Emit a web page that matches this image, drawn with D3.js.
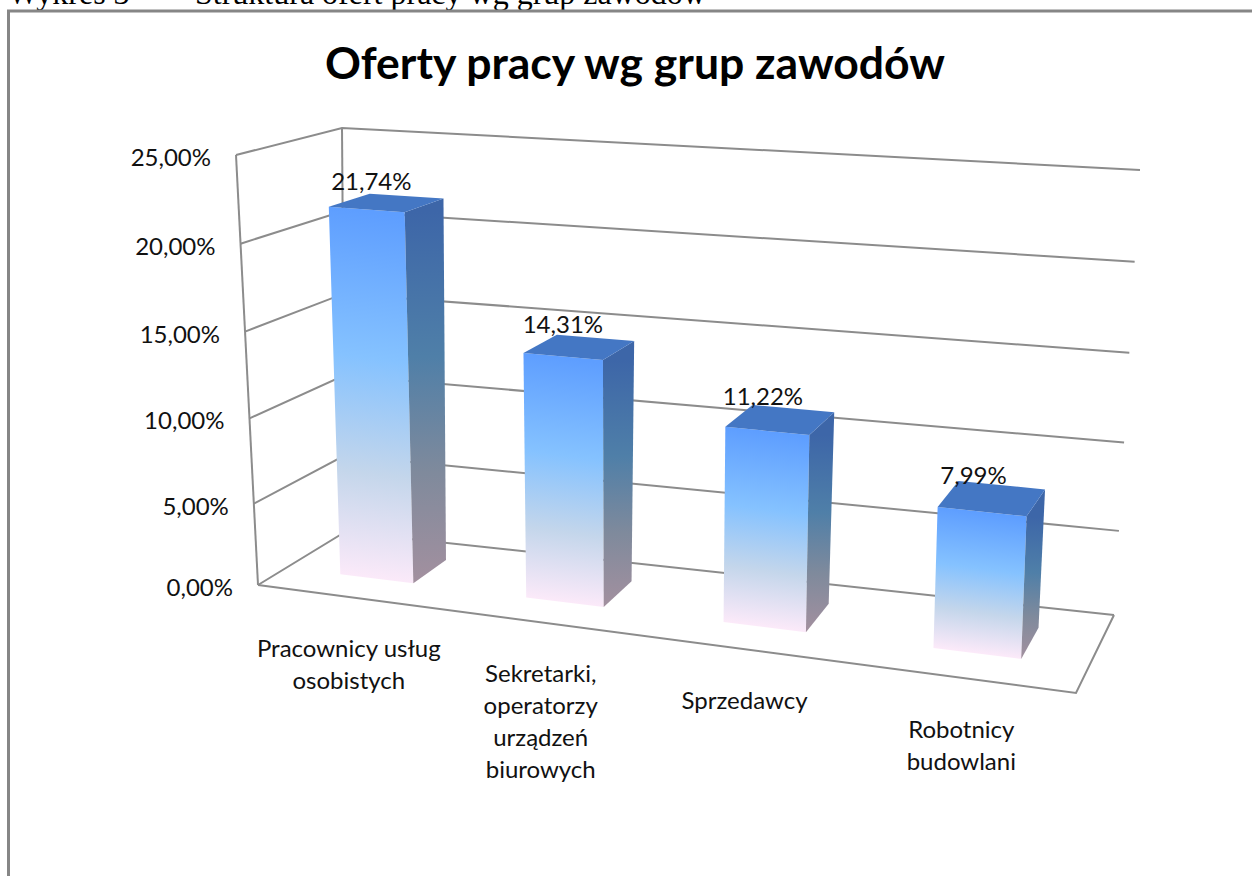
<!DOCTYPE html>
<html>
<head>
<meta charset="utf-8">
<title>Oferty pracy wg grup zawodów</title>
<script src="https://cdn.jsdelivr.net/npm/d3@7"></script>
<style>
	html, body { margin:0; padding:0; background:#fff; overflow:hidden; }
	svg { display:block; }
	text { font-family:Lato, "Open Sans", sans-serif; fill:#111; }
</style>
</head>
<body>
<div id="chart"></div>
<script>
var categories = ["Pracownicy usług\nosobistych", "Sekretarki,\noperatorzy\nurządzeń\nbiurowych", "Sprzedawcy", "Robotnicy\nbudowlani"];
var values = [21.74, 14.31, 11.22, 7.99];
var valueLabels = ["21,74%", "14,31%", "11,22%", "7,99%"];
var ticks = [0, 5, 10, 15, 20, 25];
var tickLabels = ["0,00%", "5,00%", "10,00%", "15,00%", "20,00%", "25,00%"];

var width = 1252, height = 876;

// corners of the 3d box as seen in the picture
var floor = { fl:[258,585], fr:[1076,693], bl:[345,532], br:[1114,615] };
var roof = { fl:[236,155], fr:[1094,213], bl:[342,128], br:[1140,170] };

// perspective squeeze, so bars further right/back come out bigger
function persp(k) {
	return function(t) { return t / (t + k * (1 - t)); };
}
var warpX = persp(1.13), warpZ = persp(0.68);

var x = d3.scaleBand().domain(categories).range([0, 1]).paddingInner(0.6).paddingOuter(0.3);
var y = d3.scalePow().exponent(1.035).domain([0, 25]).range([0, 1]);
var depth = d3.scaleLinear().domain([0, 1]).range([0.25, 0.66]);

function bilinear(c, u, w) {
	var out = [];
	for (var i = 0; i < 2; i++) {
		var a = c.fl[i] + (c.fr[i] - c.fl[i]) * u;
		var b = c.bl[i] + (c.br[i] - c.bl[i]) * u;
		out.push(a + (b - a) * w);
	}
	return out;
}

// t = position along x (0-1), val = axis value, d = depth (0-1), all before warping
function project(t, val, d) {
	var u = warpX(t), w = warpZ(d), v = y(val);
	var p0 = bilinear(floor, u, w), p1 = bilinear(roof, u, w);
	return [p0[0] + (p1[0] - p0[0]) * v, p0[1] + (p1[1] - p0[1]) * v];
}

var line = d3.line();

var svg = d3.select("#chart").append("svg")
	.attr("width", width)
	.attr("height", height);

var defs = svg.append("defs");

// caption of the document, cut off by the top of the picture
svg.append("text")
	.attr("x", 8).attr("y", 4)
	.style("font-family", '"Liberation Serif", serif')
	.style("font-size", "32px")
	.style("fill", "#000")
	.text("Wykres 3");
svg.append("text")
	.attr("x", 195).attr("y", 4)
	.style("font-family", '"Liberation Serif", serif')
	.style("font-size", "32px")
	.style("fill", "#000")
	.text("Struktura ofert pracy wg grup zawodów");

// chart frame
svg.append("path")
	.attr("d", line([[8.5, height], [8.5, 11], [width, 11]]))
	.attr("fill", "none")
	.attr("stroke", "#868686")
	.attr("stroke-width", 3);

svg.append("text")
	.attr("x", 635).attr("y", 79)
	.attr("text-anchor", "middle")
	.style("font-size", "44.5px")
	.style("font-weight", 700)
	.style("fill", "#000")
	.text("Oferty pracy wg grup zawodów");

var walls = svg.append("g")
	.attr("fill", "none")
	.attr("stroke", "#8c8c8c")
	.attr("stroke-width", 2);

walls.selectAll(".back")
	.data(ticks)
	.enter().append("path")
	.attr("class", "back")
	.attr("d", function(d) { return line([project(0, d, 0), project(0, d, 1), project(1, d, 1)]); });

walls.append("path").attr("d", line([project(0, 0, 0), project(0, 25, 0)]));
walls.append("path").attr("d", line([project(0, 25, 1), project(0, 0, 1)]));
walls.append("path").attr("d", line([project(0, 0, 0), project(1, 0, 0), project(1, 0, 1)]));

svg.selectAll(".tick-label")
	.data(ticks)
	.enter().append("text")
	.attr("class", "tick-label")
	.attr("x", function(d) { return project(0, d, 0)[0] - 25; })
	.attr("y", function(d) { return project(0, d, 0)[1] + 11; })
	.attr("text-anchor", "end")
	.style("font-size", "24px")
	.text(function(d, i) { return tickLabels[i]; });

var frontStops = [[0, "#5e9eff"], [0.39, "#85c2ff"], [0.7, "#c4d6eb"], [1, "#ffebfa"]];
var sideStops = [[0, "#3d66a8"], [0.39, "#4f7fa8"], [0.7, "#7f8a9c"], [1, "#a3909f"]];

function gradient(id, stops, a, b) {
	var g = defs.append("linearGradient")
		.attr("id", id)
		.attr("gradientUnits", "userSpaceOnUse")
		.attr("x1", a[0]).attr("y1", a[1])
		.attr("x2", b[0]).attr("y2", b[1]);
	g.selectAll("stop")
		.data(stops)
		.enter().append("stop")
		.attr("offset", function(d) { return d[0]; })
		.attr("stop-color", function(d) { return d[1]; });
}

var bars = svg.selectAll(".bar")
	.data(categories)
	.enter().append("g")
	.attr("class", "bar");

bars.each(function(cat, i) {
	var g = d3.select(this);
	var l = x(cat), r = x(cat) + x.bandwidth();
	var val = values[i];
	var z0 = depth(0), z1 = depth(1);
	var a = project(l, val, z0), b = project(r, val, z0), c = project(r, 0, z0), e = project(l, 0, z0);
	var f = project(r, val, z1), h = project(r, 0, z1), k = project(l, val, z1);

	var tall = e[1] - a[1];
	gradient("front" + i, frontStops, a, [a[0] - 0.13 * tall, a[1] + tall]);
	gradient("side" + i, sideStops, b, c);

	g.append("path").attr("d", line([a, b, c, e]) + "Z").attr("fill", "url(#front" + i + ")");
	g.append("path").attr("d", line([b, f, h, c]) + "Z").attr("fill", "url(#side" + i + ")");
	g.append("path").attr("d", line([a, b, f, k]) + "Z").attr("fill", "#4477c4");
});

svg.selectAll(".value-label")
	.data(categories)
	.enter().append("text")
	.attr("class", "value-label")
	.attr("text-anchor", "middle")
	.attr("x", function(d) { return project(x(d) + x.bandwidth() / 2, values[categories.indexOf(d)], 0.5)[0] - 21; })
	.attr("y", function(d) { return project(x(d) + x.bandwidth() / 2, values[categories.indexOf(d)], 0.5)[1] - 11; })
	.style("font-size", "24px")
	.text(function(d) { return valueLabels[categories.indexOf(d)]; });

var catLabels = svg.selectAll(".cat-label")
	.data(categories)
	.enter().append("text")
	.attr("class", "cat-label")
	.attr("text-anchor", "middle")
	.style("font-size", "24px");

catLabels.each(function(d) {
	var p = project(x(d) + x.bandwidth() / 2, 0, 0);
	d3.select(this).selectAll("tspan")
		.data(d.split("\n"))
		.enter().append("tspan")
		.attr("x", p[0] - 1)
		.attr("y", function(s, j) { return p[1] + 60 + j * 32; })
		.text(function(s) { return s; });
});
</script>
</body>
</html>
